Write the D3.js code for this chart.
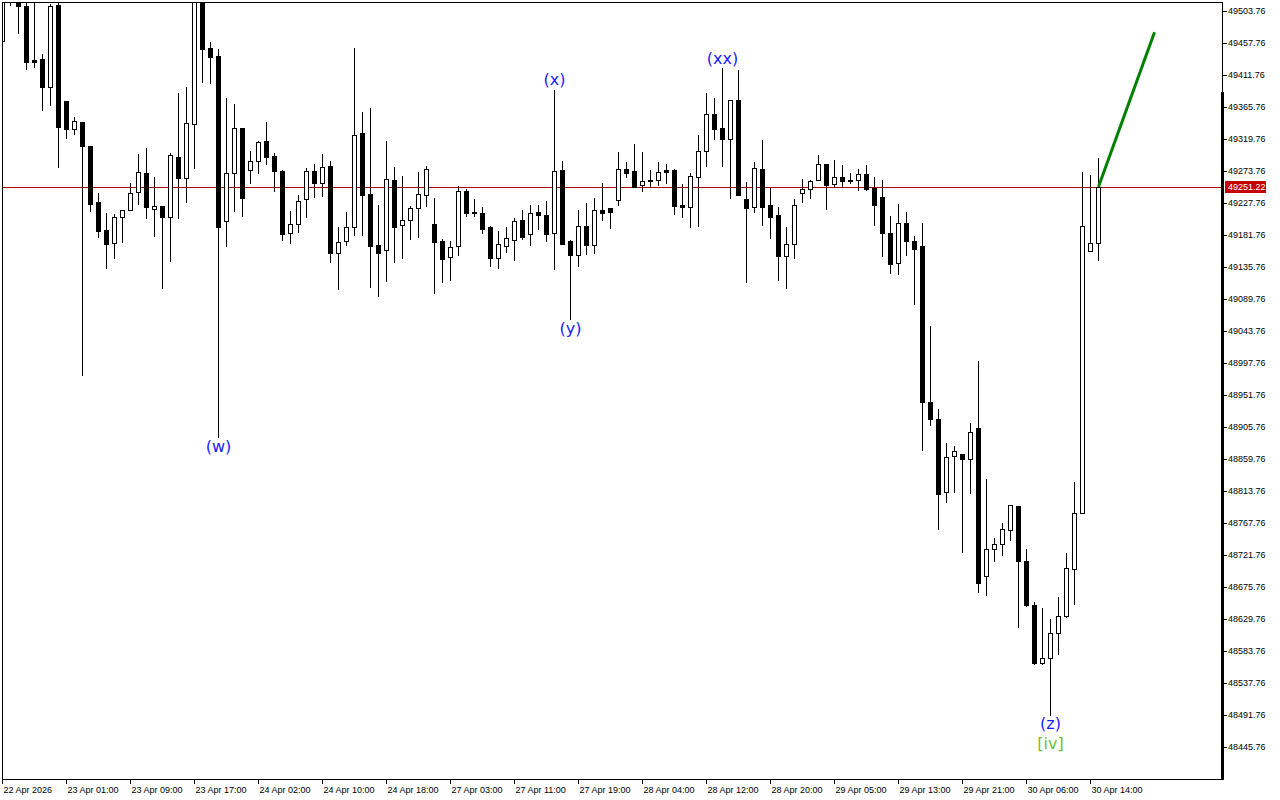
<!DOCTYPE html>
<html><head><meta charset="utf-8">
<script src="https://cdn.jsdelivr.net/npm/d3@7"></script>
<style>html,body{margin:0;padding:0;background:#fff;}svg{display:block;}</style>
</head><body><svg id="chart" width="1280" height="800"></svg>
<script>
// ---------- data ----------
const timeLabels = ["22 Apr 2026","23 Apr 01:00","23 Apr 09:00","23 Apr 17:00","24 Apr 02:00","24 Apr 10:00","24 Apr 18:00","27 Apr 03:00","27 Apr 11:00","27 Apr 19:00","28 Apr 04:00","28 Apr 12:00","28 Apr 20:00","29 Apr 05:00","29 Apr 13:00","29 Apr 21:00","30 Apr 06:00","30 Apr 14:00"];
const timeLabelBars = [0,8,16,24,32,40,48,56,64,72,80,88,96,104,112,120,128,136];
const priceTicks = [49503.76,49457.76,49411.76,49365.76,49319.76,49273.76,49227.76,49181.76,49135.76,49089.76,49043.76,48997.76,48951.76,48905.76,48859.76,48813.76,48767.76,48721.76,48675.76,48629.76,48583.76,48537.76,48491.76,48445.76];

const opens = [49461.1,49526.8,49523.9,49511.0,49432.9,49434.8,49395.0,49512.4,49374.4,49334.6,
49344.2,49310.1,49229.2,49189.0,49170.7,49207.2,49217.3,49243.2,49270.5,49218.7,
49223.0,49208.1,49293.9,49264.2,49340.9,49534.0,49450.2,49439.1,49201.5,49270.5,
49335.6,49274.8,49287.7,49316.5,49295.3,49273.4,49184.2,49197.2,49233.1,49273.4,
49256.1,49281.0,49156.3,49172.7,49192.9,49328.4,49240.7,49167.0,49159.8,49260.9,
49195.7,49202.9,49220.2,49238.9,49197.2,49172.7,49149.7,49166.4,49245.0,49214.9,
49213.0,49192.9,49149.2,49165.5,49175.0,49202.9,49182.8,49214.4,49210.5,49185.1,
49275.2,49173.2,49152.6,49194.7,49167.0,49217.7,49220.6,49231.7,49276.2,49273.4,
49253.2,49259.8,49260.4,49274.8,49275.2,49224.9,49221.6,49264.7,49302.1,49355.7,
49335.2,49320.2,49375.4,49233.5,49221.6,49276.7,49224.9,49210.1,49152.0,49169.3,
49241.7,49247.5,49260.4,49283.9,49254.7,49264.7,49259.8,49260.4,49269.0,49249.8,
49236.4,49184.7,49140.8,49198.7,49172.9,49165.5,48941.7,48917.3,48811.9,48863.7,
48867.0,48859.4,48903.9,48691.2,48730.0,48737.2,48757.3,48792.2,48713.2,48649.9,
48566.5,48573.7,48609.1,48634.0,48701.5,48781.7,49158.8,49170.0];
const highs = [49536.9,49541.2,49531.1,49518.2,49518.2,49443.4,49515.7,49523.9,49374.4,49352.8,
49344.2,49311.2,49243.6,49214.9,49213.0,49219.2,49258.0,49299.7,49308.3,49266.6,
49223.0,49300.7,49387.4,49396.0,49541.2,49548.3,49460.2,49450.2,49380.2,49371.5,
49337.0,49304.0,49318.3,49345.7,49300.7,49276.7,49217.7,49240.7,49280.0,49285.3,
49299.7,49289.2,49194.3,49216.3,49452.0,49360.0,49365.8,49226.3,49317.9,49281.0,
49268.0,49224.5,49273.8,49282.4,49236.4,49177.5,49174.6,49253.7,49249.3,49235.4,
49223.5,49196.6,49189.0,49194.7,49207.7,49219.2,49225.9,49225.9,49232.1,49391.2,
49289.6,49176.0,49219.2,49229.2,49236.8,49258.0,49220.6,49302.5,49288.2,49313.6,
49302.5,49276.2,49287.7,49284.9,49278.1,49256.1,49271.9,49326.5,49387.4,49379.7,
49422.9,49376.9,49420.0,49259.0,49287.7,49319.8,49250.8,49223.5,49194.7,49235.0,
49263.3,49262.7,49298.2,49284.9,49291.0,49283.9,49271.9,49277.7,49283.9,49266.6,
49262.3,49210.5,49227.8,49216.3,49181.8,49200.0,49052.4,48932.7,48884.2,48879.9,
48868.4,48913.0,49002.1,48832.5,48747.7,48769.2,48795.1,48792.2,48731.4,48655.2,
48647.0,48630.5,48662.3,48726.0,48827.7,49273.8,49269.6,49294.6];
const lows = [49461.1,49512.0,49472.2,49420.4,49423.7,49361.9,49369.1,49280.0,49321.6,49327.4,
48980.5,49216.7,49179.3,49134.8,49149.2,49172.2,49217.3,49226.8,49206.7,49180.8,
49106.0,49144.8,49206.2,49229.7,49278.5,49402.2,49400.3,48891.8,49166.4,49216.7,
49209.5,49257.0,49271.3,49284.3,49245.5,49175.0,49170.7,49186.5,49208.1,49236.8,
49238.3,49143.4,49104.6,49167.4,49182.2,49182.2,49107.5,49094.5,49115.7,49143.4,
49149.2,49176.5,49179.3,49223.5,49098.8,49114.7,49117.5,49153.0,49209.5,49209.5,
49184.7,49137.7,49134.8,49156.9,49145.8,49176.0,49167.8,49190.8,49173.6,49133.3,
49169.3,49060.6,49137.7,49154.0,49156.3,49203.8,49192.3,49225.3,49265.6,49251.2,
49245.5,49250.8,49253.2,49257.0,49212.0,49208.1,49193.7,49195.2,49281.4,49319.4,
49281.4,49235.4,49239.7,49114.7,49215.3,49196.6,49177.5,49117.5,49106.0,49148.3,
49229.2,49234.5,49260.4,49219.2,49250.4,49250.4,49257.0,49246.9,49246.9,49196.6,
49152.0,49127.6,49126.2,49153.5,49083.0,48873.2,48909.1,48759.6,48798.4,48812.8,
48726.5,48811.3,48669.0,48664.7,48713.6,48722.2,48743.8,48618.7,48648.5,48564.4,
48565.1,48491.4,48580.1,48632.5,48651.4,48781.7,49158.8,49146.3];
const closes = [49526.8,49521.0,49511.4,49430.9,49430.9,49395.0,49511.0,49337.5,49334.6,49345.2,
49310.1,49226.8,49188.0,49169.3,49207.2,49217.3,49241.7,49271.9,49221.6,49223.0,
49208.1,49296.4,49264.2,49342.4,49526.8,49449.6,49437.2,49193.7,49270.5,49335.2,
49235.4,49287.7,49315.0,49294.3,49274.2,49183.7,49197.2,49230.2,49273.4,49257.0,
49279.1,49156.3,49171.3,49192.9,49325.5,49239.7,49166.4,49156.3,49261.9,49193.7,
49202.9,49220.2,49240.3,49276.2,49172.2,49147.7,49164.1,49245.0,49213.8,49213.8,
49190.8,49149.2,49168.9,49177.0,49201.5,49179.3,49213.0,49211.0,49183.7,49273.4,
49169.3,49153.5,49194.7,49167.4,49217.3,49213.8,49215.3,49276.2,49271.3,49251.2,
49259.0,49260.4,49271.9,49272.8,49223.9,49221.6,49266.2,49302.1,49355.3,49334.6,
49320.2,49375.4,49239.7,49221.0,49277.7,49222.5,49208.1,49152.0,49169.3,49224.5,
49247.5,49259.0,49283.4,49254.1,49264.7,49259.8,49260.4,49269.0,49247.9,49225.3,
49185.1,49140.5,49198.6,49173.6,49162.1,48942.2,48917.7,48809.9,48862.2,48870.9,
48859.4,48898.2,48682.0,48730.0,48737.6,48758.7,48793.7,48712.7,48649.9,48566.5,
48574.4,48609.1,48634.5,48703.7,48781.7,49195.0,49170.0,49251.22];

const lastPrice = 49251.22;
const projectionBars = [137, 144];
const projectionPrices = [49251.22, 49473.2];

const waveTexts = ["(w)","(x)","(y)","(xx)","(z)","[iv]"];
const waveBars = [27, 69, 71, 90, 131, 131];
const wavePrices = [48877.5, 49404.6, 49046.7, 49435.5, 48478.9, 48450.1];

// ---------- drawing ----------
const svg = d3.select("#chart");
const FONT = "'Liberation Sans', Arial, sans-serif";
const x = d3.scaleLinear().domain([0, 137]).range([2.5, 1098.5]);
const y = d3.scaleLinear().domain([49503.76, 48445.76]).range([11, 747]);
const py = v => Math.round(y(v)) + 0.5;

svg.append("rect").attr("width",1280).attr("height",800).attr("fill","#fff");

svg.append("defs").append("clipPath").attr("id","plotClip")
  .append("rect").attr("x",2.5).attr("y",2.5).attr("width",1219.5).attr("height",777);

const plot = svg.append("g").attr("clip-path","url(#plotClip)");

// current price line
plot.append("line")
  .attr("x1",2).attr("x2",1222)
  .attr("y1",py(lastPrice)).attr("y2",py(lastPrice))
  .attr("stroke","#b40000").attr("stroke-width",1).attr("shape-rendering","crispEdges");

const bars = d3.range(opens.length);
const cg = plot.append("g").attr("shape-rendering","crispEdges");
cg.selectAll("line.wick").data(bars).join("line")
  .attr("class","wick")
  .attr("x1", i => x(i)).attr("x2", i => x(i))
  .attr("y1", i => py(highs[i])).attr("y2", i => py(lows[i]) + 0.5)
  .attr("stroke","#000").attr("stroke-width",1);
cg.selectAll("path.body").data(bars).join("path")
  .attr("class","body")
  .attr("d", i => {
    const top = py(Math.max(opens[i], closes[i]));
    const bot = py(Math.min(opens[i], closes[i]));
    const x0 = x(i) - 2, x1 = x(i) + 2;
    return `M${x0},${top}H${x1}V${bot}H${x0}Z`;
  })
  .attr("fill", i => closes[i] >= opens[i] ? "#fff" : "#000")
  .attr("stroke","#000").attr("stroke-width",1);

// projection line
plot.append("line")
  .attr("x1", x(projectionBars[0])).attr("y1", y(projectionPrices[0]))
  .attr("x2", x(projectionBars[1])).attr("y2", y(projectionPrices[1]))
  .attr("stroke","#008000").attr("stroke-width",3);

// wave labels
plot.selectAll("text.wave").data(waveTexts).join("text")
  .attr("class","wave")
  .attr("x",(d,i)=>x(waveBars[i])).attr("y",(d,i)=>y(wavePrices[i]))
  .attr("dy","0.32em").attr("text-anchor","middle")
  .attr("font-family","'DejaVu Sans', sans-serif").attr("font-size",16)
  .attr("fill", d => d === "[iv]" ? "#6cc23a" : "#1a1aff")
  .text(d => d);

// frame
const frame = svg.append("g").attr("stroke","#000").attr("stroke-width",1).attr("shape-rendering","crispEdges");
frame.append("line").attr("x1",2).attr("x2",1223).attr("y1",2.5).attr("y2",2.5);
frame.append("line").attr("x1",2.5).attr("x2",2.5).attr("y1",2).attr("y2",780);
frame.append("line").attr("x1",2).attr("x2",1223).attr("y1",779.5).attr("y2",779.5);
frame.append("line").attr("x1",1222.5).attr("x2",1222.5).attr("y1",2).attr("y2",780);
svg.append("rect").attr("x",1221).attr("y",92).attr("width",3).attr("height",688).attr("fill","#000");

// right axis
const ax = svg.append("g").attr("transform","translate(1222,0)")
  .call(d3.axisRight(y).tickValues(priceTicks).tickSize(5).tickSizeOuter(0).tickPadding(1).tickFormat(d3.format(".2f")));
ax.select(".domain").remove();
ax.selectAll("line").attr("stroke","#000").attr("shape-rendering","crispEdges");
ax.selectAll("text").attr("font-family",FONT).attr("font-size",9).attr("fill","#000");

// current price tag
const ty = Math.round(y(lastPrice));
svg.append("rect").attr("x",1225).attr("y",ty-6).attr("width",41).attr("height",12).attr("fill","#c40000");
svg.append("text").attr("x",1228).attr("y",ty).attr("dy","0.36em")
  .attr("font-family",FONT).attr("font-size",9).attr("fill","#fff").text(lastPrice.toFixed(2));

// bottom axis
const bx = svg.append("g").attr("transform","translate(0,779.5)")
  .call(d3.axisBottom(x).tickValues(timeLabelBars).tickSize(4).tickSizeOuter(0).offset(0)
    .tickFormat((d,i)=>timeLabels[i]));
bx.select(".domain").remove();
bx.selectAll("line").attr("stroke","#000").attr("shape-rendering","crispEdges");
bx.selectAll("text").attr("font-family",FONT).attr("font-size",9).attr("fill","#000")
  .attr("text-anchor","start").attr("x",1);
</script></body></html>
